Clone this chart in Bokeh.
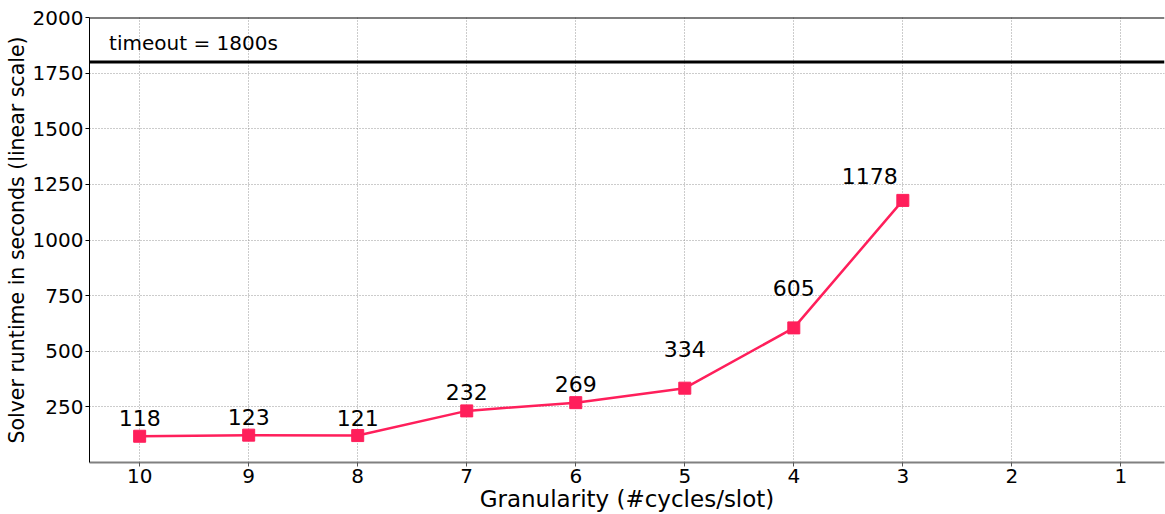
from bokeh.plotting import figure
from bokeh.models import Range1d, FixedTicker, Span, ColumnDataSource, Label
from bokeh.core.properties import value
from bokeh.embed import file_html
from bokeh.resources import INLINE

# data
granularity = [10, 9, 8, 7, 6, 5, 4, 3]
runtime = [118, 123, 121, 232, 269, 334, 605, 1178]
labels = [str(v) for v in runtime]
x_ticks = [10, 9, 8, 7, 6, 5, 4, 3, 2, 1]
y_ticks = [250, 500, 750, 1000, 1250, 1500, 1750, 2000]
timeout = 1800

# label placement (screen px)
label_dx = [0, 0, 0, 0, 0, 0, 0, -33]
label_dy = [-18, -18, -18, -19, -19, -39, -40, -24]

FONT = "DejaVu Sans"
COLOR = "#FF1F5B"

p = figure(width=1165, height=514, output_backend="svg", toolbar_location=None,
           x_range=Range1d(10.46, 0.6), y_range=Range1d(0, 2000),
           min_border_left=89, min_border_right=1, min_border_top=17, min_border_bottom=51)
p.outline_line_color = None
p.background_fill_color = "white"
p.border_fill_color = "white"

# axes
p.xaxis.ticker = FixedTicker(ticks=x_ticks)
p.yaxis.ticker = FixedTicker(ticks=y_ticks)
p.xaxis.axis_label = "Granularity (#cycles/slot)"
p.yaxis.axis_label = "Solver runtime in seconds (linear scale)"
for ax in (p.xaxis[0], p.yaxis[0]):
    ax.axis_label_text_font = FONT
    ax.axis_label_text_font_style = "normal"
    ax.axis_label_text_color = "black"
    ax.major_label_text_font = FONT
    ax.major_label_text_font_size = "20px"
    ax.major_label_text_color = "black"
    ax.minor_tick_line_color = None
    ax.major_tick_in = 0
    ax.major_tick_out = 4
p.xaxis.axis_label_text_font_size = "23px"
p.yaxis.axis_label_text_font_size = "20.5px"
p.xaxis.axis_line_color = "#808080"
p.xaxis.axis_line_width = 2
p.xaxis.major_tick_line_color = "#555555"
p.xaxis.major_label_standoff = 2
p.xaxis.axis_label_standoff = 0
p.yaxis.axis_line_color = "black"
p.yaxis.axis_line_width = 1
p.yaxis.major_tick_line_color = "black"
p.yaxis.major_label_standoff = 2
p.yaxis.axis_label_standoff = 1

# grid
for g in (p.xgrid[0], p.ygrid[0]):
    g.grid_line_color = "#999999"
    g.grid_line_dash = "1 2"
    g.grid_line_width = 1

# top spine
p.add_layout(Span(location=2000, dimension="width", line_color="black", line_width=2))

# timeout line
p.add_layout(Span(location=timeout, dimension="width", line_color="black", line_width=3))
p.add_layout(Label(x=10.28, y=timeout + 50, y_offset=8, text="timeout = 1800s",
                   text_font=FONT, text_font_size="20px", text_color="black",
                   text_baseline="alphabetic", text_align="left"))

src = ColumnDataSource(dict(x=granularity, y=runtime, lab=labels, dx=label_dx, dy=label_dy))
p.line("x", "y", source=src, line_color=COLOR, line_width=2.5)
p.scatter("x", "y", source=src, marker="square", size=12, fill_color=COLOR, line_color=COLOR)
p.text("x", "y", text="lab", source=src, x_offset="dx", y_offset="dy",
       text_font=value(FONT), text_font_size="22px", text_color="black",
       text_align="center", text_baseline="alphabetic")

open("out.html", "w").write(file_html(p, INLINE))
